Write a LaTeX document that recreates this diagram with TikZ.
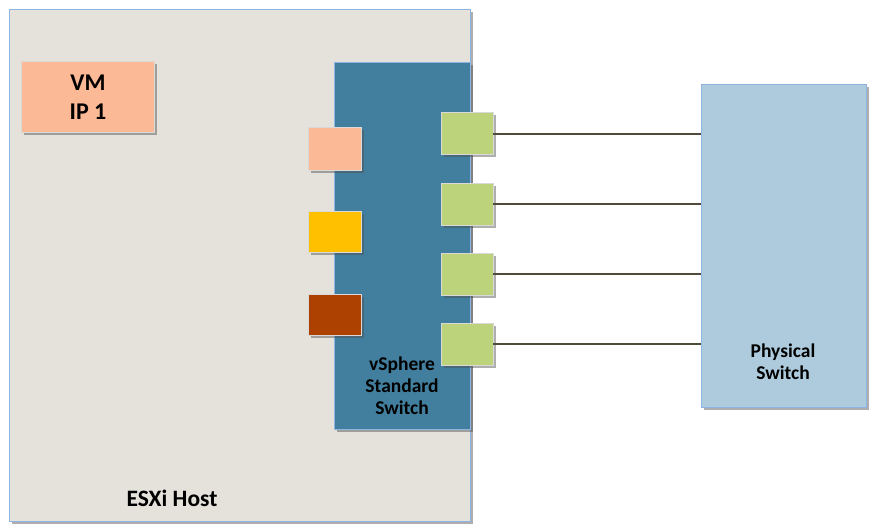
\documentclass[tikz,border=0pt]{standalone}
\usepackage{fontspec}
\setmainfont{Carlito}
\usetikzlibrary{shadows}
\definecolor{hostfill}{HTML}{E5E2DC}
\definecolor{hostedge}{HTML}{8DB4E2}
\definecolor{vmfill}{HTML}{FBB995}
\definecolor{swfill}{HTML}{427F9E}
\definecolor{yel}{HTML}{FFC000}
\definecolor{brn}{HTML}{AD4101}
\definecolor{grn}{HTML}{BDD37B}
\definecolor{physfill}{HTML}{ADCBDD}
\definecolor{wire}{HTML}{4F4A3A}
\tikzset{
  shad/.style={drop shadow={shadow xshift=2.5pt,shadow yshift=-2.5pt,opacity=0.45,fill=black!70}},
  bigbox/.style={draw=hostedge,line width=1pt,anchor=north west,inner sep=0pt,outer sep=0pt,shad},
  port/.style={draw=white!85!black,line width=1pt,anchor=north west,inner sep=0pt,outer sep=0pt,minimum width=52pt,minimum height=42pt,shad},
  lbl/.style={font=\bfseries,align=center,inner sep=0pt,text=black},
  wireline/.style={draw=wire,line width=1.8pt}
}
\begin{document}
\begin{tikzpicture}[x=1pt,y=-1pt]
\useasboundingbox (0,0) rectangle (878,532);
\fill[white] (0,0) rectangle (878,532);
% ESXi host
\node[bigbox,fill=hostfill,minimum width=461pt,minimum height=511pt] (host) at (9,10) {};
\node[lbl,font=\bfseries\fontsize{23.5}{27}\selectfont] (hostlbl) at (172,498) {ESXi Host};
% VM
\node[port,fill=vmfill,minimum width=133pt,minimum height=71pt] (vm) at (21,62) {};
\node[lbl,font=\bfseries\fontsize{24}{29}\selectfont] (vmlbl) at (88,97.5) {VM\\IP 1};
% vSphere switch
\node[bigbox,fill=swfill,minimum width=136pt,minimum height=366pt] (vss) at (334,63) {};
\node[lbl,font=\bfseries\fontsize{19.5}{22}\selectfont] (vsslbl) at (402,386) {vSphere\\Standard\\Switch};
% VM-side ports
\node[port,fill=vmfill,minimum width=53pt] (p1) at (308,128) {};
\node[port,fill=yel,minimum width=53pt,minimum height=41pt] (p2) at (308,211) {};
\node[port,fill=brn,minimum width=53pt,minimum height=41pt] (p3) at (308,294) {};
% uplink ports
\node[port,fill=grn] (u1) at (441,113) {};
\node[port,fill=grn] (u2) at (441,183) {};
\node[port,fill=grn] (u3) at (441,253) {};
\node[port,fill=grn] (u4) at (441,323) {};
% physical switch
\node[bigbox,fill=physfill,minimum width=165pt,minimum height=322pt] (phys) at (701,85) {};
\node[lbl,font=\bfseries\fontsize{19.5}{22}\selectfont] (physlbl) at (783,362) {Physical\\Switch};
% wires
\foreach \u in {u1,u2,u3,u4}{
  \draw[wireline] (\u.east) -- (\u.east -| phys.west);
}
\end{tikzpicture}
\end{document}
